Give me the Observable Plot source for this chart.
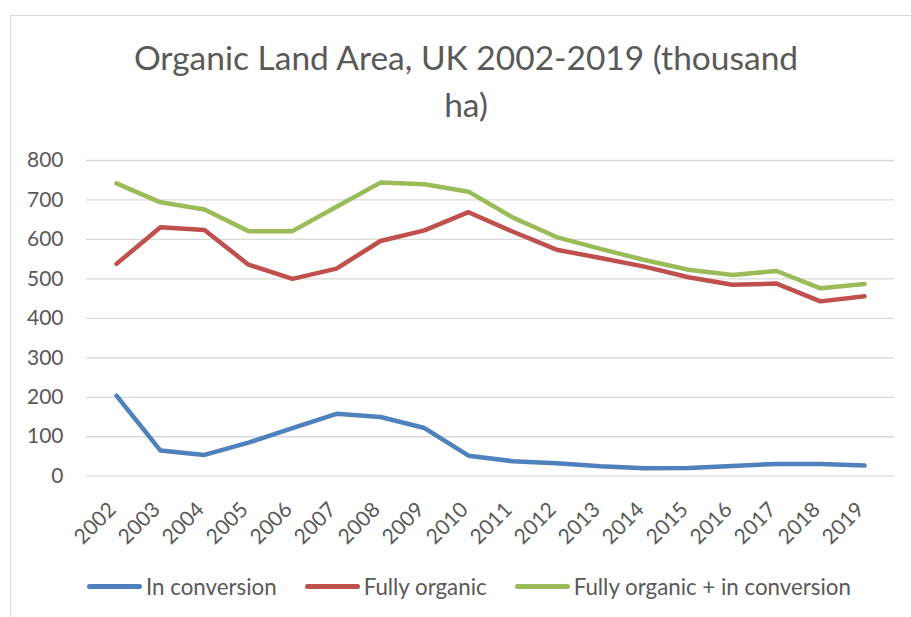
<!DOCTYPE html>
<html><head><meta charset="utf-8">
<script src="https://cdn.jsdelivr.net/npm/d3@7"></script>
<script src="https://cdn.jsdelivr.net/npm/@observablehq/plot@0.6"></script>
<style>
html,body{margin:0;padding:0;background:#fff;overflow:hidden;width:911px;height:617px;}
#frame{position:absolute;left:10px;top:15px;width:1000px;height:1000px;border:1px solid #d9d9d9;box-sizing:border-box;}
#title{position:absolute;left:10px;width:912px;top:34px;text-align:center;font-family:Lato,"Open Sans",sans-serif;font-size:33.5px;color:#595959;line-height:46.6px;}
#chart{position:absolute;left:0;top:130px;}
#legend{position:absolute;left:87px;top:574px;display:flex;gap:28px;font-family:Lato,"Open Sans",sans-serif;font-size:22.3px;color:#595959;}
.item{display:flex;align-items:center;gap:4px;height:24px;}
.sw{width:55px;height:5px;border-radius:3px;}
</style>
</head><body>
<div id="frame"></div>
<div id="title">Organic Land Area, UK 2002-2019 (thousand<br>ha)</div>
<div id="chart"></div>
<div id="legend"></div>
<script>
const years = ["2002","2003","2004","2005","2006","2007","2008","2009","2010","2011","2012","2013","2014","2015","2016","2017","2018","2019"];
const seriesNames = ["In conversion","Fully organic","Fully organic + in conversion"];
const inConversion = [204,65,54,85,122,158,150,122,52,38,33,25,20,21,26,31,31,27];
const fullyOrganic = [538,631,624,536,500,526,596,623,669,620,574,553,531,504,485,488,443,456];
const total = [742,694,676,621,621,683,744,740,721,656,606,576,548,523,510,520,476,487];
const yTicks = [0,100,200,300,400,500,600,700,800];
const colors = ["#4f81bd","#c0504d","#9bbb59"];

const seriesValues = [inConversion, fullyOrganic, total];
const data = [];
seriesNames.forEach((name, i) => {
  years.forEach((yr, j) => data.push({year: yr, value: seriesValues[i][j], series: name}));
});

const chart = Plot.plot({
  width: 911, height: 420,
  marginLeft: 86, marginRight: 17, marginTop: 30, marginBottom: 74.3,
  x: {type: "point", domain: years, padding: 0.5},
  y: {domain: [0, 800]},
  color: {domain: seriesNames, range: colors},
  style: {fontFamily: "Lato, 'Open Sans', sans-serif", fontSize: "21px", color: "#595959", background: "transparent", overflow: "visible"},
  marks: [
    Plot.ruleY(yTicks, {stroke: "#d9d9d9", strokeWidth: 1.3}),
    Plot.axisY(yTicks, {tickSize: 0, tickPadding: 23, label: null, fontSize: 21}),
    Plot.axisX({tickSize: 0, tickRotate: -45, tickPadding: 30, dx: -4, label: null, fontSize: 21}),
    Plot.lineY(data, {x: "year", y: "value", stroke: "series", strokeWidth: 4.5, strokeLinecap: "round", strokeLinejoin: "round"})
  ]
});
document.getElementById("chart").appendChild(chart);

const legend = document.getElementById("legend");
seriesNames.forEach((name, i) => {
  const item = document.createElement("div");
  item.className = "item";
  const sw = document.createElement("div");
  sw.className = "sw";
  sw.style.background = colors[i];
  const t = document.createElement("span");
  t.textContent = name;
  item.appendChild(sw);
  item.appendChild(t);
  legend.appendChild(item);
});
</script>
</body></html>
